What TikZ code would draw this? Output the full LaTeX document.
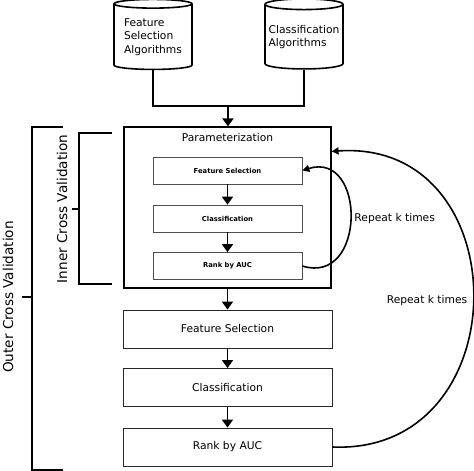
\documentclass[tikz,border=0pt]{standalone}
\usepackage{fontspec}
\setmainfont{DejaVu Sans}
\usetikzlibrary{shapes.geometric,arrows.meta}
\tikzset{
	db/.style={cylinder, shape border rotate=90, draw, line width=1.6pt, minimum width=78pt, minimum height=70pt, aspect=0.15, align=left, inner sep=0pt, font=\fontsize{10.7}{13.5}\selectfont},
	stepsmall/.style={draw=black!70, line width=0.7pt, minimum width=149pt, minimum height=27pt, inner sep=0pt, font=\bfseries\fontsize{6.8}{8}\selectfont},
	stepbig/.style={draw=black!85, line width=0.9pt, minimum width=209pt, minimum height=38pt, inner sep=0pt, font=\fontsize{10.7}{13}\selectfont},
	flow/.style={-{Triangle[length=8pt,width=11pt]}, line width=1.8pt},
	loop/.style={-{Triangle[length=7pt,width=7pt]}, line width=1.6pt},
	brk/.style={line width=1.4pt},
	side/.style={rotate=90, font=\fontsize{13.6}{16}\selectfont}
}
\begin{document}
\begin{tikzpicture}[x=1pt, y=-1pt]
	\useasboundingbox (0,0) rectangle (474,471);
	% algorithm stores
	\node[db] (cylFS) at (153,37) {Feature\\Selection\\Algorithms};
	\node[db] (cylCA) at (304,37) {Classification\\Algorithms};
	\coordinate (join) at (228,106);
	\draw[line width=2.4pt] (cylFS.south) |- (join) -| (cylCA.south);
	% parameterization block
	\node[draw, line width=1.2pt, minimum width=207pt, minimum height=161pt] (param) at (227.5,207.5) {};
	\node[font=\fontsize{10.7}{13}\selectfont] (ptitle) at (227.5,138) {Parameterization};
	\draw[flow] (join) -- (param);
	\foreach \n/\t/\y in {pFS/Feature Selection/170.5, pCl/Classification/218.5, pRank/Rank by AUC/266} {
		\node[stepsmall] (\n) at (227.5,\y) {\t};
	}
	\draw[flow] (pFS) -- (pCl);
	\draw[flow] (pCl) -- (pRank);
	\draw[loop] (pRank.east) .. controls +(64,20) and +(64,-20) .. node[right, font=\fontsize{10.7}{13}\selectfont] (rep1) {Repeat k times} (pFS.east);
	% outer steps
	\foreach \n/\t/\y in {oFS/Feature Selection/329, oCl/Classification/387.5, oRank/Rank by AUC/447} {
		\node[stepbig] (\n) at (227.5,\y) {\t};
	}
	\draw[flow] (param) -- (oFS);
	\draw[flow] (oFS) -- (oCl);
	\draw[flow] (oCl) -- (oRank);
	\coordinate (back) at ([yshift=-25pt]param.north east);
	\draw[loop] (oRank.east) .. controls +(188,8) and +(188,-13) .. (back);
	\node[font=\fontsize{10.7}{13}\selectfont] (rep2) at (427,301) {Repeat k times};
	% brackets
	\draw[brk] (112,133) -- (79,133) -- (79,284) -- (112,284);
	\draw[brk] (72,209) -- (79,209);
	\node[side] (inner) at (62,209) {Inner Cross Validation};
	\draw[line width=2pt] (63,127) -- (32,127) -- (32,470) -- (63,470);
	\draw[line width=2pt] (22,297) -- (32,297);
	\node[side] (outer) at (8,297) {Outer Cross Validation};
\end{tikzpicture}
\end{document}
